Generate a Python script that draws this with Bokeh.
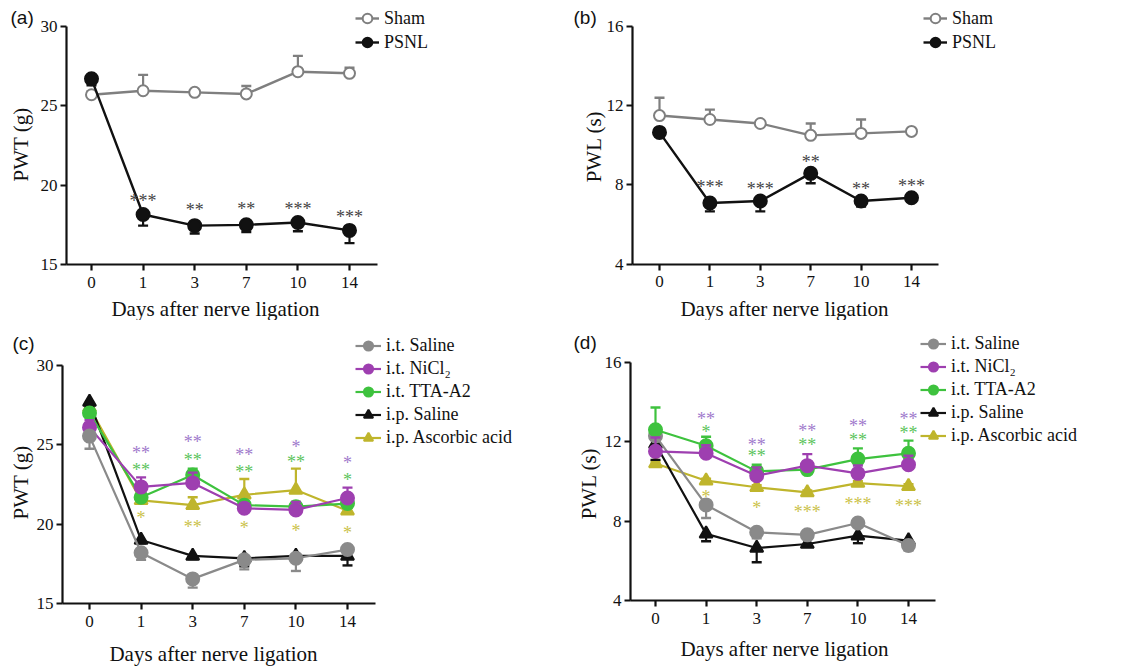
import math
from bokeh.plotting import figure
from bokeh.models import Range1d, FixedTicker, Legend, LegendItem, Label
from bokeh.layouts import column, row
from bokeh.embed import file_html
from bokeh.resources import INLINE
from bokeh.core.properties import value

# ---------------- data ----------------
days = ["0", "1", "3", "7", "10", "14"]
star_days = [1, 2, 3, 4, 5]

# (a) PWT (g)
a_sham = [25.7, 25.95, 25.85, 25.75, 27.15, 27.05]
a_sham_err = [0.2, 1.0, 0.1, 0.5, 1.0, 0.35]
a_psnl = [26.7, 18.15, 17.45, 17.5, 17.65, 17.15]
a_psnl_err = [0.4, 0.7, 0.5, 0.45, 0.55, 0.8]
a_stars = ["***", "**", "**", "***", "***"]
a_stars_y = [19.2, 18.6, 18.7, 18.7, 18.2]

# (b) PWL (s)
b_sham = [11.5, 11.3, 11.1, 10.5, 10.6, 10.7]
b_sham_err = [0.9, 0.5, 0.1, 0.6, 0.7, 0.1]
b_psnl = [10.65, 7.08, 7.18, 8.58, 7.18, 7.35]
b_psnl_err = [0.2, 0.42, 0.52, 0.5, 0.28, 0.1]
b_stars = ["***", "***", "**", "**", "***"]
b_stars_y = [8.04, 7.96, 9.31, 7.96, 8.08]

# (c) PWT (g)
c_it_saline = [25.55, 18.2, 16.55, 17.75, 17.85, 18.4]
c_it_saline_err = [0.8, 0.45, 0.55, 0.6, 0.8, 0.2]
c_nicl2 = [26.1, 22.35, 22.6, 21.0, 20.9, 21.65]
c_nicl2_err = [0.45, 0.6, 0.65, 0.3, 0.5, 0.65]
c_tta = [27.0, 21.7, 23.1, 21.2, 21.1, 21.3]
c_tta_err = [0.3, 0.3, 0.4, 0.2, 0.3, 0.25]
c_ip_saline = [27.7, 19.0, 18.0, 17.85, 18.0, 18.0]
c_ip_saline_err = [0.3, 0.2, 0.2, 0.5, 0.3, 0.6]
c_ascorbic = [27.35, 21.5, 21.2, 21.85, 22.15, 20.85]
c_ascorbic_err = [0.3, 0.2, 0.5, 1.0, 1.35, 0.2]
c_stars_nicl2 = ["**", "**", "**", "*", "*"]
c_stars_nicl2_y = [24.69, 25.38, 24.55, 25.03, 24.02]
c_stars_tta = ["**", "**", "**", "**", "*"]
c_stars_tta_y = [23.6, 24.23, 23.5, 24.13, 22.97]
c_stars_asc = ["*", "**", "*", "*", "*"]
c_stars_asc_y = [20.56, 19.99, 19.93, 19.78, 19.61]

# (d) PWL (s)
d_it_saline = [12.3, 8.82, 7.44, 7.31, 7.91, 6.77]
d_it_saline_err = [0.2, 0.66, 0.3, 0.15, 0.1, 0.25]
d_nicl2 = [11.52, 11.43, 10.29, 10.8, 10.41, 10.85]
d_nicl2_err = [0.7, 0.4, 0.42, 0.58, 0.4, 0.45]
d_tta = [12.61, 11.8, 10.51, 10.6, 11.13, 11.42]
d_tta_err = [1.12, 0.46, 0.34, 0.3, 0.54, 0.64]
d_ip_saline = [11.89, 7.36, 6.65, 6.85, 7.27, 7.02]
d_ip_saline_err = [0.8, 0.37, 0.72, 0.1, 0.38, 0.1]
d_ascorbic = [10.91, 10.04, 9.71, 9.45, 9.92, 9.76]
d_ascorbic_err = [0.1, 0.1, 0.1, 0.1, 0.1, 0.1]
d_stars_nicl2 = ["**", "**", "**", "**", "**"]
d_stars_nicl2_y = [13.28, 11.97, 12.68, 12.93, 13.31]
d_stars_tta = ["*", "**", "**", "**", "**"]
d_stars_tta_y = [12.64, 11.42, 11.97, 12.26, 12.59]
d_stars_asc = ["*", "*", "***", "***", "***"]
d_stars_asc_y = [9.37, 8.83, 8.62, 9.03, 8.9]

legend_ab = ["Sham", "PSNL"]
legend_cd = ["i.t. Saline", "i.t. NiCl\u2082", "i.t. TTA-A2", "i.p. Saline", "i.p. Ascorbic acid"]
panel_names = ["(a)", "(b)", "(c)", "(d)"]
x_title = "Days after nerve ligation"
y_titles = ["PWT (g)", "PWL (s)", "PWT (g)", "PWL (s)"]

# ---------------- style ----------------
SERIF = "Liberation Serif"
SANS = "Liberation Sans"
GRAY_A = "#7f7f7f"
BLACK = "#111111"
GRAY = "#8a8a8a"
PURPLE = "#9e3fb0"
GREEN = "#3ec23e"
OLIVE = "#bfb52c"
STAR_AB = "#444444"
STAR_PURPLE = "#a07acc"
STAR_GREEN = "#5cc45c"
STAR_OLIVE = "#cbc24a"


def make_fig(width, height, y0, y1, y1_px, y0_px, spacing_px, axis_px, first_px, end_px,
             yticks, ylabel, ylab_xy, xlab_xy, name, name_xy):
    """The frame covers the whole figure; both axes are drawn at fixed locations.
    All *_px / *_xy values are pixel offsets from the figure's top-left corner."""
    ppu = (y0_px - y1_px) / (y1 - y0)
    y_end = y1 + y1_px / ppu
    y_start = y0 - (height - y0_px) / ppu
    x_start = -first_px / spacing_px
    x_end = x_start + width / spacing_px
    x_axis = x_start + axis_px / spacing_px
    x_bound = x_start + end_px / spacing_px
    p = figure(width=width, height=height, output_backend="svg", toolbar_location=None,
               x_range=Range1d(x_start, x_end), y_range=Range1d(y_start, y_end),
               min_border=0)
    p.outline_line_color = None
    p.grid.visible = False
    p.xaxis.ticker = FixedTicker(ticks=list(range(len(days))))
    p.xaxis.major_label_overrides = {i: d for i, d in enumerate(days)}
    p.xaxis.bounds = (x_axis, x_bound)
    p.xaxis.fixed_location = y0
    p.yaxis.ticker = FixedTicker(ticks=yticks)
    p.yaxis.bounds = (y0, y1)
    p.yaxis.fixed_location = x_axis
    for ax in p.axis:
        ax.axis_line_width = 2.2
        ax.axis_line_color = BLACK
        ax.major_tick_line_width = 2.2
        ax.major_tick_line_color = BLACK
        ax.major_tick_out = 6
        ax.major_tick_in = 0
        ax.minor_tick_line_color = None
        ax.major_label_text_font = SERIF
        ax.major_label_text_font_size = "17px"
        ax.major_label_text_color = BLACK
    p.xaxis.major_label_standoff = 6
    p.yaxis.major_label_standoff = 3

    p.add_layout(Label(x=xlab_xy[0], y=height - xlab_xy[1], x_units="screen", y_units="screen",
                       text=x_title, text_font=SERIF, text_font_size="21px", text_color=BLACK,
                       text_align="center", text_baseline="middle"))
    p.add_layout(Label(x=ylab_xy[0], y=height - ylab_xy[1], x_units="screen", y_units="screen",
                       text=ylabel, text_font=SERIF, text_font_size="21px", text_color=BLACK,
                       text_align="center", text_baseline="middle", angle=math.pi / 2))
    p.add_layout(Label(x=name_xy[0], y=height - name_xy[1], x_units="screen", y_units="screen",
                       text=name, text_font=SANS, text_font_size="19px", text_color=BLACK,
                       text_align="left", text_baseline="middle"))
    return p


def series(p, y, err, direction, color, marker, size, fill, lw=2.4):
    x = list(range(len(y)))
    ends = [v + direction * e for v, e in zip(y, err)]
    p.segment(x0=x, y0=y, x1=x, y1=ends, line_color=color, line_width=2.2)
    p.scatter(x, ends, marker="dash", size=10, line_color=color, line_width=2.4)
    ln = p.line(x, y, line_color=color, line_width=lw)
    mk = p.scatter(x, y, marker=marker, size=size, fill_color=fill, line_color=color, line_width=2)
    return ln, mk


def stars(p, texts, ys, color):
    p.text(x=star_days, y=ys, text=texts, text_font=value(SERIF), text_font_size="18px",
           text_color=color, text_align="center", text_baseline="middle", y_offset=3)


def legend(p, items, left, top, gw, gh):
    n = len(items)
    leg = Legend(items=[LegendItem(label=lab, renderers=list(r)) for lab, r in items],
                 location=(left, p.height - top - n * gh), padding=0, margin=0, spacing=0,
                 glyph_width=gw, glyph_height=gh, label_height=gh, label_standoff=5,
                 background_fill_alpha=0, border_line_color=None)
    leg.label_text_font = SERIF
    leg.label_text_font_size = "18px"
    leg.label_text_color = BLACK
    p.add_layout(leg)


# ---------------- (a) ----------------
pa = make_fig(560, 320, 15, 30, 26, 264, 51.6, 66, 91, 377, [15, 20, 25, 30],
              y_titles[0], (20, 144), (215, 308), panel_names[0], (10, 17))
ra1 = series(pa, a_sham, a_sham_err, 1, GRAY_A, "circle", 11, "white")
ra2 = series(pa, a_psnl, a_psnl_err, -1, BLACK, "circle", 13, BLACK)
stars(pa, a_stars, a_stars_y, STAR_AB)
legend(pa, [(legend_ab[0], ra1), (legend_ab[1], ra2)], 355, 6, 24, 24)

# ---------------- (b) ----------------
pb = make_fig(572, 320, 4, 16, 26, 263.5, 50.4, 72, 99, 378, [4, 8, 12, 16],
              y_titles[1], (33, 146), (224, 308), panel_names[1], (13, 17))
rb1 = series(pb, b_sham, b_sham_err, 1, GRAY_A, "circle", 11, "white")
rb2 = series(pb, b_psnl, b_psnl_err, -1, BLACK, "circle", 13, BLACK)
stars(pb, b_stars, b_stars_y, STAR_AB)
legend(pb, [(legend_ab[0], rb1), (legend_ab[1], rb2)], 363, 6, 24, 24)

# ---------------- (c) ----------------
pc = make_fig(560, 346, 15, 30, 45, 283, 51.6, 62, 89, 375, [15, 20, 25, 30],
              y_titles[2], (20, 162), (213, 333), panel_names[2], (12, 23))
rc5 = series(pc, c_ascorbic, c_ascorbic_err, 1, OLIVE, "triangle", 13, OLIVE, 2.2)
rc4 = series(pc, c_ip_saline, c_ip_saline_err, -1, BLACK, "triangle", 13, BLACK, 2.2)
rc3 = series(pc, c_tta, c_tta_err, 1, GREEN, "circle", 13, GREEN, 2.2)
rc2 = series(pc, c_nicl2, c_nicl2_err, 1, PURPLE, "circle", 13, PURPLE, 2.2)
rc1 = series(pc, c_it_saline, c_it_saline_err, -1, GRAY, "circle", 13, GRAY, 2.2)
stars(pc, c_stars_nicl2, c_stars_nicl2_y, STAR_PURPLE)
stars(pc, c_stars_tta, c_stars_tta_y, STAR_GREEN)
stars(pc, c_stars_asc, c_stars_asc_y, STAR_OLIVE)
legend(pc, list(zip(legend_cd, [rc1, rc2, rc3, rc4, rc5])), 355, 14, 26, 23)

# ---------------- (d) ----------------
pd_ = make_fig(572, 346, 4, 16, 42, 280, 50.6, 70, 95, 375, [4, 8, 12, 16],
               y_titles[3], (28, 163), (224, 328), panel_names[3], (13, 22))
rd5 = series(pd_, d_ascorbic, d_ascorbic_err, 1, OLIVE, "triangle", 13, OLIVE, 2.2)
rd4 = series(pd_, d_ip_saline, d_ip_saline_err, -1, BLACK, "triangle", 13, BLACK, 2.2)
rd1 = series(pd_, d_it_saline, d_it_saline_err, -1, GRAY, "circle", 13, GRAY, 2.2)
rd3 = series(pd_, d_tta, d_tta_err, 1, GREEN, "circle", 13, GREEN, 2.2)
rd2 = series(pd_, d_nicl2, d_nicl2_err, 1, PURPLE, "circle", 13, PURPLE, 2.2)
stars(pd_, d_stars_nicl2, d_stars_nicl2_y, STAR_PURPLE)
stars(pd_, d_stars_tta, d_stars_tta_y, STAR_GREEN)
stars(pd_, d_stars_asc, d_stars_asc_y, STAR_OLIVE)
legend(pd_, list(zip(legend_cd, [rd1, rd2, rd3, rd4, rd5])), 360, 12, 26, 23)

layout = column(row(pa, pb), row(pc, pd_))
open("out.html", "w").write(file_html(layout, INLINE))
